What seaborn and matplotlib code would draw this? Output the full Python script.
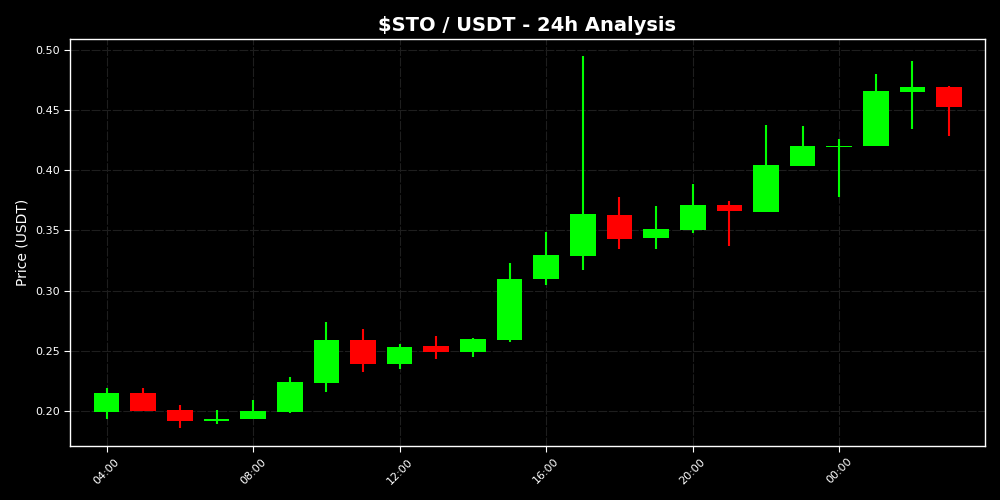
import matplotlib
matplotlib.use("Agg")
import matplotlib.pyplot as plt
import matplotlib.dates as mdates
import seaborn as sns
import pandas as pd
import numpy as np

times = pd.date_range("2024-01-01 04:00", periods=24, freq="h")
opens = [0.1995, 0.2150, 0.2008, 0.1920, 0.1931, 0.1994, 0.2235, 0.2590,
         0.2393, 0.2540, 0.2493, 0.2590, 0.3100, 0.3291, 0.3632, 0.3438,
         0.3504, 0.3714, 0.3654, 0.4036, 0.4194, 0.4202, 0.4654, 0.4695]
closes = [0.2152, 0.2003, 0.1919, 0.1933, 0.2000, 0.2244, 0.2590, 0.2393,
          0.2534, 0.2493, 0.2601, 0.3097, 0.3299, 0.3640, 0.3430, 0.3515,
          0.3714, 0.3664, 0.4044, 0.4202, 0.4202, 0.4662, 0.4693, 0.4526]
highs = [0.2189, 0.2189, 0.2050, 0.2008, 0.2091, 0.2280, 0.2740, 0.2681,
         0.2557, 0.2623, 0.2607, 0.3227, 0.3488, 0.4950, 0.3778, 0.3706,
         0.3886, 0.3745, 0.4377, 0.4369, 0.4260, 0.4803, 0.4909, 0.4700]
lows = [0.1931, 0.2000, 0.1861, 0.1890, 0.1931, 0.1986, 0.2160, 0.2327,
        0.2347, 0.2435, 0.2451, 0.2576, 0.3050, 0.3172, 0.3346, 0.3346,
        0.3482, 0.3374, 0.3654, 0.4036, 0.3781, 0.4202, 0.4346, 0.4285]

df = pd.DataFrame({"time": times, "open": opens, "close": closes,
                   "high": highs, "low": lows})
df["up"] = df["close"] >= df["open"]

sns.set_theme(style="dark", rc={
    "figure.facecolor": "black", "axes.facecolor": "black",
    "axes.edgecolor": "white", "axes.labelcolor": "white",
    "xtick.color": "white", "ytick.color": "white",
    "text.color": "white", "grid.color": "#222222",
})
plt.rcParams["font.family"] = ["DejaVu Sans"]

fig, ax = plt.subplots(figsize=(10, 5), dpi=100)
green, red = "#00ff00", "#ff0000"
colors = np.where(df["up"], green, red)

ax.vlines(df["time"], df["low"], df["high"], colors=colors, linewidth=1.5, zorder=2)
body_bottom = np.minimum(df["open"], df["close"])
body_h = np.maximum(np.abs(df["close"] - df["open"]), 0.0008)
ax.bar(df["time"], body_h, bottom=body_bottom, width=0.7 / 24,
       color=colors, edgecolor=colors, linewidth=0, zorder=3)

ax.set_xlim(df["time"].iloc[0] - pd.Timedelta(hours=1),
            df["time"].iloc[-1] + pd.Timedelta(hours=0.98))
ax.set_ylim(0.1709, 0.5091)
ax.set_xticks(df["time"].iloc[::4])
ax.xaxis.set_major_formatter(mdates.DateFormatter("%H:%M"))
plt.setp(ax.get_xticklabels(), rotation=45, fontsize=8)
plt.setp(ax.get_yticklabels(), fontsize=8)
ax.tick_params(axis="both", which="major", length=4, width=0.8, bottom=True, left=True)
ax.yaxis.set_major_formatter(matplotlib.ticker.FormatStrFormatter("%.2f"))

ax.grid(True, linestyle=(0, (8, 1.5)), linewidth=0.8, color="#1e1e1e")
for s in ax.spines.values():
    s.set_color("white")
    s.set_linewidth(1.0)

ax.set_title(r"\$STO / USDT - 24h Analysis", fontsize=14, fontweight="bold", color="white")
ax.set_ylabel("Price (USDT)", fontsize=10)
ax.set_xlabel("")
fig.subplots_adjust(left=0.07, right=0.985, top=0.922, bottom=0.108)
fig.savefig("out.png", facecolor="black")
